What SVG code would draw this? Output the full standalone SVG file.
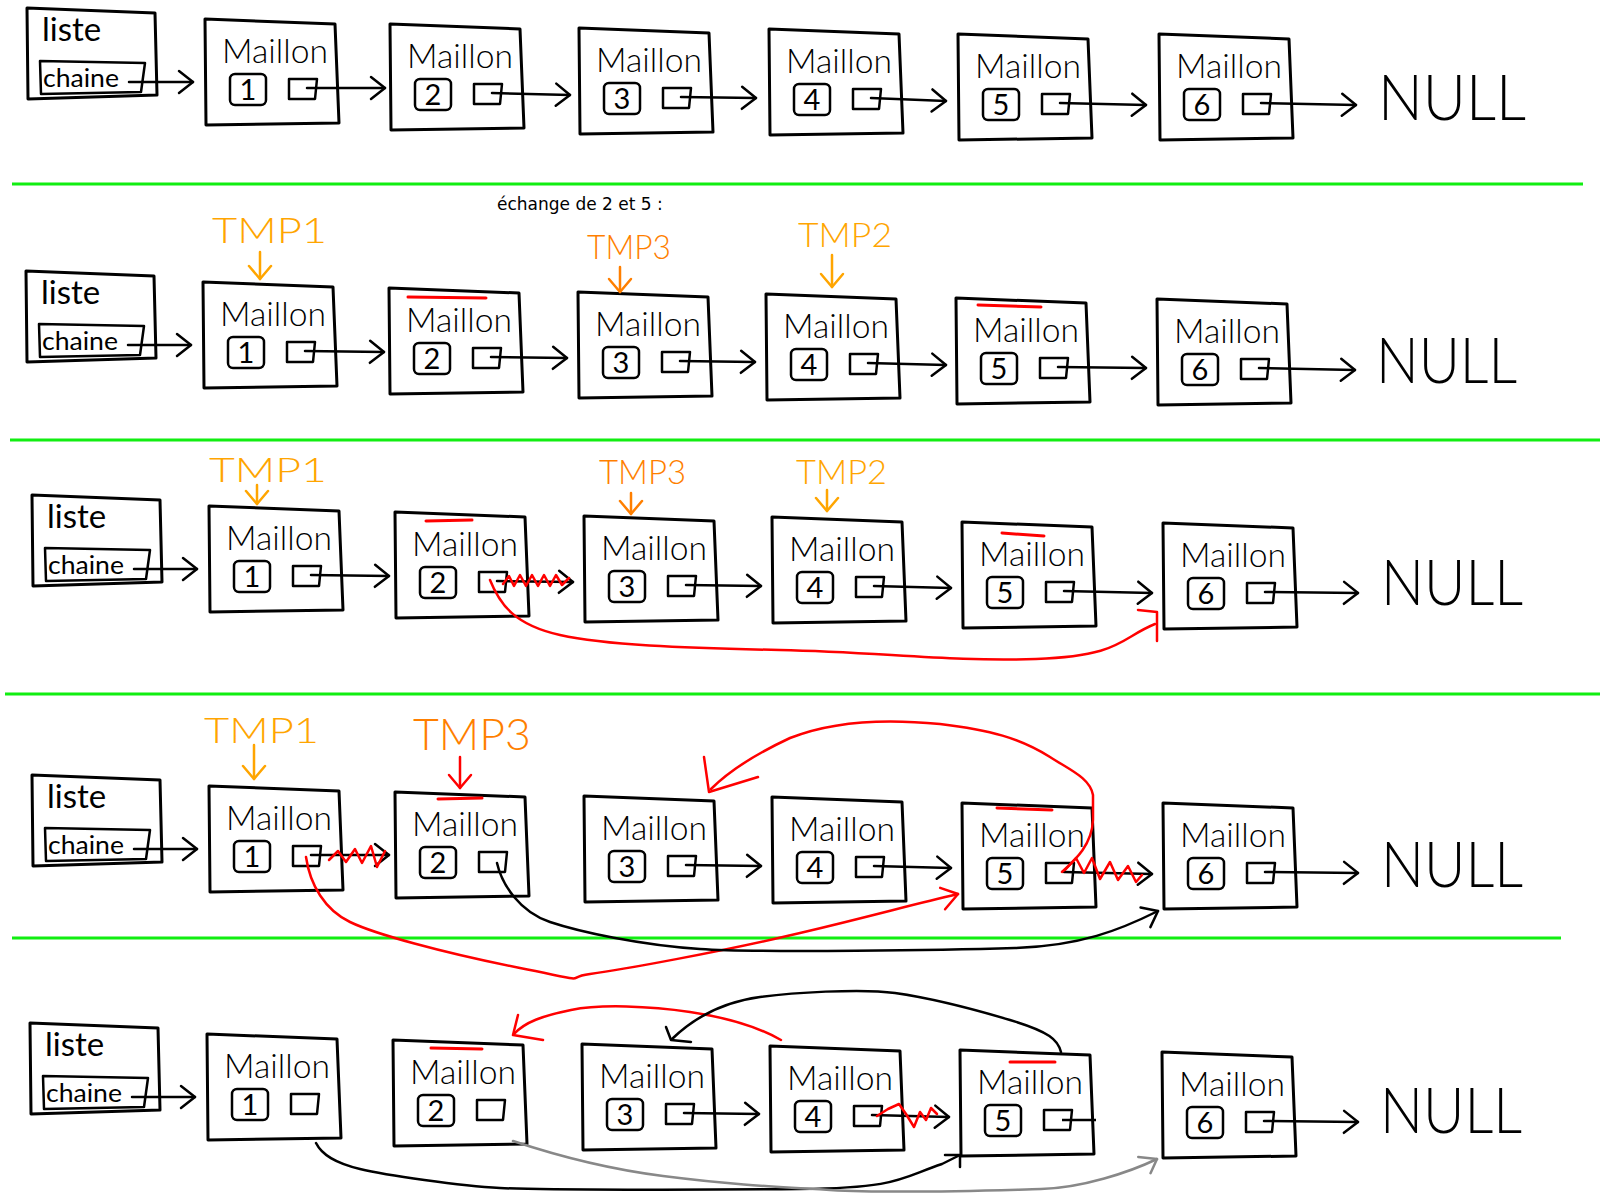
<svg xmlns="http://www.w3.org/2000/svg" width="1600" height="1200" viewBox="0 0 1600 1200">
<style>
.box{fill:none;stroke:#000;stroke-width:3;stroke-linejoin:round}
.sm{fill:none;stroke:#000;stroke-width:2.5;stroke-linejoin:round}
.hw{font-family:Lato,"Liberation Sans",Arial,sans-serif;fill:#000}
.mt{font-size:34px;font-weight:300}
.lst{font-size:33px}
.ch{font-size:25px}
.num{font-family:Lato,"Liberation Sans",Arial,sans-serif;font-size:29px;font-weight:400;text-anchor:middle;fill:#000}
.null{font-family:Lato,"Liberation Sans",sans-serif;font-weight:300;font-size:64px;fill:#000}
.tmp{font-family:Lato,"Liberation Sans",Arial,sans-serif;font-weight:300;fill:#ffa500}
.tmp3{fill:#ff7f00}
.ech{font-family:"DejaVu Sans",Verdana,sans-serif;font-size:17px;fill:#000}
.rbar{stroke:#f00;stroke-width:3;stroke-linecap:round}
.green{stroke:#11ee11;stroke-width:3}
.con{fill:none;stroke:#000;stroke-width:2.5;stroke-linecap:round;marker-end:url(#ak)}
.conr{fill:none;stroke:#f00;stroke-width:2.5;stroke-linecap:round;stroke-linejoin:round}
.cong{fill:none;stroke:#888;stroke-width:2.5;stroke-linecap:round}
.conb{fill:none;stroke:#000;stroke-width:2.5;stroke-linecap:round;stroke-linejoin:round}
.oar{fill:none;stroke:#ffa500;stroke-width:2.5;stroke-linecap:round;marker-end:url(#ao)}
.oar3{fill:none;stroke:#ff7f00;stroke-width:2.5;stroke-linecap:round;marker-end:url(#ao3)}
</style>
<defs>
<marker id="ak" viewBox="-16 -13 20 26" refX="0" refY="0" markerWidth="20" markerHeight="26" markerUnits="userSpaceOnUse" orient="auto" overflow="visible"><path d="M-14,-11 L0,0 L-14,11" fill="none" stroke="#000" stroke-width="2.5" stroke-linecap="round" stroke-linejoin="round"/></marker>
<marker id="ar" viewBox="-16 -13 20 26" refX="0" refY="0" markerWidth="20" markerHeight="26" markerUnits="userSpaceOnUse" orient="auto" overflow="visible"><path d="M-16,-10 L0,0 L-16,12" fill="none" stroke="#f00" stroke-width="2.5" stroke-linecap="round" stroke-linejoin="round"/></marker>
<marker id="ag" viewBox="-16 -13 20 26" refX="0" refY="0" markerWidth="20" markerHeight="26" markerUnits="userSpaceOnUse" orient="auto" overflow="visible"><path d="M-16,-10 L0,0 L-12,10" fill="none" stroke="#888" stroke-width="2.5" stroke-linecap="round" stroke-linejoin="round"/></marker>
<marker id="ao" viewBox="-16 -13 20 26" refX="0" refY="0" markerWidth="20" markerHeight="26" markerUnits="userSpaceOnUse" orient="auto" overflow="visible"><path d="M-13,-11 L0,0 L-13,11" fill="none" stroke="#ffa500" stroke-width="2.5" stroke-linecap="round" stroke-linejoin="round"/></marker>
<marker id="ao3" viewBox="-16 -13 20 26" refX="0" refY="0" markerWidth="20" markerHeight="26" markerUnits="userSpaceOnUse" orient="auto" overflow="visible"><path d="M-13,-11 L0,0 L-13,11" fill="none" stroke="#ff7f00" stroke-width="2.5" stroke-linecap="round" stroke-linejoin="round"/></marker>
<marker id="ar2" viewBox="-16 -13 20 26" refX="0" refY="0" markerWidth="20" markerHeight="26" markerUnits="userSpaceOnUse" orient="auto" overflow="visible"><path d="M-13,-11 L0,0 L-13,11" fill="none" stroke="#f00" stroke-width="2.5" stroke-linecap="round" stroke-linejoin="round"/></marker>
</defs>
<rect width="1600" height="1200" fill="#fff"/>

<g id="separators">
<line class="green" x1="12" y1="184" x2="1583" y2="184"/>
<line class="green" x1="10" y1="440" x2="1600" y2="440"/>
<line class="green" x1="5" y1="694" x2="1600" y2="694"/>
<line class="green" x1="12" y1="938" x2="1561" y2="938"/>
</g>

<text class="ech" x="497" y="210">échange de 2 et 5 :</text>

<!-- ROW 1 -->
<g id="r1-liste" transform="translate(27,8)"><polygon class="box" points="0,0 128,5 130,87 1,91"/><text class="hw lst" x="15" y="33">liste</text><polygon class="sm" points="13,53 118,55 114,84 14,86"/><text class="hw ch" x="16" y="79" textLength="76" lengthAdjust="spacingAndGlyphs">chaine</text></g>
<g id="r1-m1" transform="translate(205,19)"><polygon class="box" points="0,0 130,5 134,104 1,106"/><text class="hw mt" x="17" y="44" textLength="106" lengthAdjust="spacingAndGlyphs">Maillon</text><rect class="sm" x="25" y="55" width="36" height="31" rx="5"/><text class="num" x="43" y="81">1</text><path class="sm" d="M84,60 H112 L110,80 H84 Z"/></g>
<g id="r1-m2" transform="translate(390,24)"><polygon class="box" points="0,0 130,5 134,104 1,106"/><text class="hw mt" x="17" y="44" textLength="106" lengthAdjust="spacingAndGlyphs">Maillon</text><rect class="sm" x="25" y="55" width="36" height="31" rx="5"/><text class="num" x="43" y="81">2</text><path class="sm" d="M84,60 H112 L110,80 H84 Z"/></g>
<g id="r1-m3" transform="translate(579,28)"><polygon class="box" points="0,0 130,5 134,104 1,106"/><text class="hw mt" x="17" y="44" textLength="106" lengthAdjust="spacingAndGlyphs">Maillon</text><rect class="sm" x="25" y="55" width="36" height="31" rx="5"/><text class="num" x="43" y="81">3</text><path class="sm" d="M84,60 H112 L110,80 H84 Z"/></g>
<g id="r1-m4" transform="translate(769,29)"><polygon class="box" points="0,0 130,5 134,104 1,106"/><text class="hw mt" x="17" y="44" textLength="106" lengthAdjust="spacingAndGlyphs">Maillon</text><rect class="sm" x="25" y="55" width="36" height="31" rx="5"/><text class="num" x="43" y="81">4</text><path class="sm" d="M84,60 H112 L110,80 H84 Z"/></g>
<g id="r1-m5" transform="translate(958,34)"><polygon class="box" points="0,0 130,5 134,104 1,106"/><text class="hw mt" x="17" y="44" textLength="106" lengthAdjust="spacingAndGlyphs">Maillon</text><rect class="sm" x="25" y="55" width="36" height="31" rx="5"/><text class="num" x="43" y="81">5</text><path class="sm" d="M84,60 H112 L110,80 H84 Z"/></g>
<g id="r1-m6" transform="translate(1159,34)"><polygon class="box" points="0,0 130,5 134,104 1,106"/><text class="hw mt" x="17" y="44" textLength="106" lengthAdjust="spacingAndGlyphs">Maillon</text><rect class="sm" x="25" y="55" width="36" height="31" rx="5"/><text class="num" x="43" y="81">6</text><path class="sm" d="M84,60 H112 L110,80 H84 Z"/></g>
<g id="r1-null"><text class="null" x="1378" y="120" textLength="148" lengthAdjust="spacingAndGlyphs">NULL</text></g>

<!-- ROW 2 -->
<g id="r2-liste" transform="translate(26,271)"><polygon class="box" points="0,0 128,5 130,87 1,91"/><text class="hw lst" x="15" y="33">liste</text><polygon class="sm" points="13,53 118,55 114,84 14,86"/><text class="hw ch" x="16" y="79" textLength="76" lengthAdjust="spacingAndGlyphs">chaine</text></g>
<g id="r2-m1" transform="translate(203,282)"><polygon class="box" points="0,0 130,5 134,104 1,106"/><text class="hw mt" x="17" y="44" textLength="106" lengthAdjust="spacingAndGlyphs">Maillon</text><rect class="sm" x="25" y="55" width="36" height="31" rx="5"/><text class="num" x="43" y="81">1</text><path class="sm" d="M84,60 H112 L110,80 H84 Z"/></g>
<g id="r2-m2" transform="translate(389,288)"><polygon class="box" points="0,0 130,5 134,104 1,106"/><line class="rbar" x1="19" y1="9" x2="97" y2="10"/><text class="hw mt" x="17" y="44" textLength="106" lengthAdjust="spacingAndGlyphs">Maillon</text><rect class="sm" x="25" y="55" width="36" height="31" rx="5"/><text class="num" x="43" y="81">2</text><path class="sm" d="M84,60 H112 L110,80 H84 Z"/></g>
<g id="r2-m3" transform="translate(578,292)"><polygon class="box" points="0,0 130,5 134,104 1,106"/><text class="hw mt" x="17" y="44" textLength="106" lengthAdjust="spacingAndGlyphs">Maillon</text><rect class="sm" x="25" y="55" width="36" height="31" rx="5"/><text class="num" x="43" y="81">3</text><path class="sm" d="M84,60 H112 L110,80 H84 Z"/></g>
<g id="r2-m4" transform="translate(766,294)"><polygon class="box" points="0,0 130,5 134,104 1,106"/><text class="hw mt" x="17" y="44" textLength="106" lengthAdjust="spacingAndGlyphs">Maillon</text><rect class="sm" x="25" y="55" width="36" height="31" rx="5"/><text class="num" x="43" y="81">4</text><path class="sm" d="M84,60 H112 L110,80 H84 Z"/></g>
<g id="r2-m5" transform="translate(956,298)"><polygon class="box" points="0,0 130,5 134,104 1,106"/><line class="rbar" x1="22" y1="7" x2="85" y2="9"/><text class="hw mt" x="17" y="44" textLength="106" lengthAdjust="spacingAndGlyphs">Maillon</text><rect class="sm" x="25" y="55" width="36" height="31" rx="5"/><text class="num" x="43" y="81">5</text><path class="sm" d="M84,60 H112 L110,80 H84 Z"/></g>
<g id="r2-m6" transform="translate(1157,299)"><polygon class="box" points="0,0 130,5 134,104 1,106"/><text class="hw mt" x="17" y="44" textLength="106" lengthAdjust="spacingAndGlyphs">Maillon</text><rect class="sm" x="25" y="55" width="36" height="31" rx="5"/><text class="num" x="43" y="81">6</text><path class="sm" d="M84,60 H112 L110,80 H84 Z"/></g>
<g id="r2-null"><text class="null" x="1376" y="383" textLength="141" lengthAdjust="spacingAndGlyphs">NULL</text></g>
<g id="r2-tmp1"><text class="tmp" x="212" y="243" font-size="36" textLength="115" lengthAdjust="spacingAndGlyphs">TMP1</text></g>
<g id="r2-tmp3"><text class="tmp tmp3" x="587" y="259" font-size="33" textLength="84" lengthAdjust="spacingAndGlyphs">TMP3</text></g>
<g id="r2-tmp2"><text class="tmp" x="798" y="247" font-size="33" textLength="94" lengthAdjust="spacingAndGlyphs">TMP2</text></g>

<!-- ROW 3 -->
<g id="r3-liste" transform="translate(32,495)"><polygon class="box" points="0,0 128,5 130,87 1,91"/><text class="hw lst" x="15" y="33">liste</text><polygon class="sm" points="13,53 118,55 114,84 14,86"/><text class="hw ch" x="16" y="79" textLength="76" lengthAdjust="spacingAndGlyphs">chaine</text></g>
<g id="r3-m1" transform="translate(209,506)"><polygon class="box" points="0,0 130,5 134,104 1,106"/><text class="hw mt" x="17" y="44" textLength="106" lengthAdjust="spacingAndGlyphs">Maillon</text><rect class="sm" x="25" y="55" width="36" height="31" rx="5"/><text class="num" x="43" y="81">1</text><path class="sm" d="M84,60 H112 L110,80 H84 Z"/></g>
<g id="r3-m2" transform="translate(395,512)"><polygon class="box" points="0,0 130,5 134,104 1,106"/><line class="rbar" x1="31" y1="9" x2="77" y2="8"/><text class="hw mt" x="17" y="44" textLength="106" lengthAdjust="spacingAndGlyphs">Maillon</text><rect class="sm" x="25" y="55" width="36" height="31" rx="5"/><text class="num" x="43" y="81">2</text><path class="sm" d="M84,60 H112 L110,80 H84 Z"/></g>
<g id="r3-m3" transform="translate(584,516)"><polygon class="box" points="0,0 130,5 134,104 1,106"/><text class="hw mt" x="17" y="44" textLength="106" lengthAdjust="spacingAndGlyphs">Maillon</text><rect class="sm" x="25" y="55" width="36" height="31" rx="5"/><text class="num" x="43" y="81">3</text><path class="sm" d="M84,60 H112 L110,80 H84 Z"/></g>
<g id="r3-m4" transform="translate(772,517)"><polygon class="box" points="0,0 130,5 134,104 1,106"/><text class="hw mt" x="17" y="44" textLength="106" lengthAdjust="spacingAndGlyphs">Maillon</text><rect class="sm" x="25" y="55" width="36" height="31" rx="5"/><text class="num" x="43" y="81">4</text><path class="sm" d="M84,60 H112 L110,80 H84 Z"/></g>
<g id="r3-m5" transform="translate(962,522)"><polygon class="box" points="0,0 130,5 134,104 1,106"/><line class="rbar" x1="40" y1="11" x2="82" y2="14"/><text class="hw mt" x="17" y="44" textLength="106" lengthAdjust="spacingAndGlyphs">Maillon</text><rect class="sm" x="25" y="55" width="36" height="31" rx="5"/><text class="num" x="43" y="81">5</text><path class="sm" d="M84,60 H112 L110,80 H84 Z"/></g>
<g id="r3-m6" transform="translate(1163,523)"><polygon class="box" points="0,0 130,5 134,104 1,106"/><text class="hw mt" x="17" y="44" textLength="106" lengthAdjust="spacingAndGlyphs">Maillon</text><rect class="sm" x="25" y="55" width="36" height="31" rx="5"/><text class="num" x="43" y="81">6</text><path class="sm" d="M84,60 H112 L110,80 H84 Z"/></g>
<g id="r3-null"><text class="null" x="1381" y="605" textLength="142" lengthAdjust="spacingAndGlyphs">NULL</text></g>
<g id="r3-tmp1"><text class="tmp" x="209" y="482" font-size="34" textLength="118" lengthAdjust="spacingAndGlyphs">TMP1</text></g>
<g id="r3-tmp3"><text class="tmp tmp3" x="599" y="484" font-size="34" textLength="87" lengthAdjust="spacingAndGlyphs">TMP3</text></g>
<g id="r3-tmp2"><text class="tmp" x="796" y="484" font-size="34" textLength="91" lengthAdjust="spacingAndGlyphs">TMP2</text></g>

<!-- ROW 4 -->
<g id="r4-liste" transform="translate(32,775)"><polygon class="box" points="0,0 128,5 130,87 1,91"/><text class="hw lst" x="15" y="33">liste</text><polygon class="sm" points="13,53 118,55 114,84 14,86"/><text class="hw ch" x="16" y="79" textLength="76" lengthAdjust="spacingAndGlyphs">chaine</text></g>
<g id="r4-m1" transform="translate(209,786)"><polygon class="box" points="0,0 130,5 134,104 1,106"/><text class="hw mt" x="17" y="44" textLength="106" lengthAdjust="spacingAndGlyphs">Maillon</text><rect class="sm" x="25" y="55" width="36" height="31" rx="5"/><text class="num" x="43" y="81">1</text><path class="sm" d="M84,60 H112 L110,80 H84 Z"/></g>
<g id="r4-m2" transform="translate(395,792)"><polygon class="box" points="0,0 130,5 134,104 1,106"/><line class="rbar" x1="43" y1="7" x2="87" y2="6"/><text class="hw mt" x="17" y="44" textLength="106" lengthAdjust="spacingAndGlyphs">Maillon</text><rect class="sm" x="25" y="55" width="36" height="31" rx="5"/><text class="num" x="43" y="81">2</text><path class="sm" d="M84,60 H112 L110,80 H84 Z"/></g>
<g id="r4-m3" transform="translate(584,796)"><polygon class="box" points="0,0 130,5 134,104 1,106"/><text class="hw mt" x="17" y="44" textLength="106" lengthAdjust="spacingAndGlyphs">Maillon</text><rect class="sm" x="25" y="55" width="36" height="31" rx="5"/><text class="num" x="43" y="81">3</text><path class="sm" d="M84,60 H112 L110,80 H84 Z"/></g>
<g id="r4-m4" transform="translate(772,797)"><polygon class="box" points="0,0 130,5 134,104 1,106"/><text class="hw mt" x="17" y="44" textLength="106" lengthAdjust="spacingAndGlyphs">Maillon</text><rect class="sm" x="25" y="55" width="36" height="31" rx="5"/><text class="num" x="43" y="81">4</text><path class="sm" d="M84,60 H112 L110,80 H84 Z"/></g>
<g id="r4-m5" transform="translate(962,803)"><polygon class="box" points="0,0 130,5 134,104 1,106"/><line class="rbar" x1="35" y1="5" x2="90" y2="7"/><text class="hw mt" x="17" y="44" textLength="106" lengthAdjust="spacingAndGlyphs">Maillon</text><rect class="sm" x="25" y="55" width="36" height="31" rx="5"/><text class="num" x="43" y="81">5</text><path class="sm" d="M84,60 H112 L110,80 H84 Z"/></g>
<g id="r4-m6" transform="translate(1163,803)"><polygon class="box" points="0,0 130,5 134,104 1,106"/><text class="hw mt" x="17" y="44" textLength="106" lengthAdjust="spacingAndGlyphs">Maillon</text><rect class="sm" x="25" y="55" width="36" height="31" rx="5"/><text class="num" x="43" y="81">6</text><path class="sm" d="M84,60 H112 L110,80 H84 Z"/></g>
<g id="r4-null"><text class="null" x="1381" y="887" textLength="142" lengthAdjust="spacingAndGlyphs">NULL</text></g>
<g id="r4-tmp1"><text class="tmp" x="204" y="743" font-size="36" textLength="115" lengthAdjust="spacingAndGlyphs">TMP1</text></g>
<g id="r4-tmp3"><text class="tmp tmp3" x="413" y="750" font-size="44" textLength="118" lengthAdjust="spacingAndGlyphs">TMP3</text></g>

<!-- ROW 5 -->
<g id="r5-liste" transform="translate(30,1023)"><polygon class="box" points="0,0 128,5 130,87 1,91"/><text class="hw lst" x="15" y="33">liste</text><polygon class="sm" points="13,53 118,55 114,84 14,86"/><text class="hw ch" x="16" y="79" textLength="76" lengthAdjust="spacingAndGlyphs">chaine</text></g>
<g id="r5-m1" transform="translate(207,1034)"><polygon class="box" points="0,0 130,5 134,104 1,106"/><text class="hw mt" x="17" y="44" textLength="106" lengthAdjust="spacingAndGlyphs">Maillon</text><rect class="sm" x="25" y="55" width="36" height="31" rx="5"/><text class="num" x="43" y="81">1</text><path class="sm" d="M84,60 H112 L110,80 H84 Z"/></g>
<g id="r5-m2" transform="translate(393,1040)"><polygon class="box" points="0,0 130,5 134,104 1,106"/><line class="rbar" x1="38" y1="8" x2="89" y2="9"/><text class="hw mt" x="17" y="44" textLength="106" lengthAdjust="spacingAndGlyphs">Maillon</text><rect class="sm" x="25" y="55" width="36" height="31" rx="5"/><text class="num" x="43" y="81">2</text><path class="sm" d="M84,60 H112 L110,80 H84 Z"/></g>
<g id="r5-m3" transform="translate(582,1044)"><polygon class="box" points="0,0 130,5 134,104 1,106"/><text class="hw mt" x="17" y="44" textLength="106" lengthAdjust="spacingAndGlyphs">Maillon</text><rect class="sm" x="25" y="55" width="36" height="31" rx="5"/><text class="num" x="43" y="81">3</text><path class="sm" d="M84,60 H112 L110,80 H84 Z"/></g>
<g id="r5-m4" transform="translate(770,1046)"><polygon class="box" points="0,0 130,5 134,104 1,106"/><text class="hw mt" x="17" y="44" textLength="106" lengthAdjust="spacingAndGlyphs">Maillon</text><rect class="sm" x="25" y="55" width="36" height="31" rx="5"/><text class="num" x="43" y="81">4</text><path class="sm" d="M84,60 H112 L110,80 H84 Z"/></g>
<g id="r5-m5" transform="translate(960,1050)"><polygon class="box" points="0,0 130,5 134,104 1,106"/><line class="rbar" x1="50" y1="12" x2="95" y2="12"/><text class="hw mt" x="17" y="44" textLength="106" lengthAdjust="spacingAndGlyphs">Maillon</text><rect class="sm" x="25" y="55" width="36" height="31" rx="5"/><text class="num" x="43" y="81">5</text><path class="sm" d="M84,60 H112 L110,80 H84 Z"/><line class="sm" x1="102" y1="70" x2="136" y2="70"/></g>
<g id="r5-m6" transform="translate(1162,1052)"><polygon class="box" points="0,0 130,5 134,104 1,106"/><text class="hw mt" x="17" y="44" textLength="106" lengthAdjust="spacingAndGlyphs">Maillon</text><rect class="sm" x="25" y="55" width="36" height="31" rx="5"/><text class="num" x="43" y="81">6</text><path class="sm" d="M84,60 H112 L110,80 H84 Z"/></g>
<g id="r5-null"><text class="null" x="1380" y="1133" textLength="142" lengthAdjust="spacingAndGlyphs">NULL</text></g>

<g id="connectors">
<!-- row 1 -->
<line class="con" x1="129" y1="82" x2="193" y2="82"/>
<line class="con" x1="307" y1="88" x2="385" y2="88"/>
<line class="con" x1="492" y1="93" x2="570" y2="95"/>
<line class="con" x1="681" y1="97" x2="756" y2="98"/>
<line class="con" x1="871" y1="98" x2="946" y2="101"/>
<line class="con" x1="1060" y1="103" x2="1146" y2="105"/>
<line class="con" x1="1261" y1="103" x2="1356" y2="105"/>
<!-- row 2 -->
<line class="con" x1="128" y1="345" x2="191" y2="345"/>
<line class="con" x1="305" y1="351" x2="384" y2="352"/>
<line class="con" x1="491" y1="357" x2="567" y2="358"/>
<line class="con" x1="680" y1="361" x2="755" y2="362"/>
<line class="con" x1="868" y1="363" x2="946" y2="365"/>
<line class="con" x1="1058" y1="367" x2="1146" y2="368"/>
<line class="con" x1="1259" y1="368" x2="1355" y2="370"/>
<line class="oar" x1="260" y1="252" x2="260" y2="279"/>
<line class="oar3" x1="620" y1="267" x2="620" y2="292"/>
<line class="oar" x1="832" y1="255" x2="832" y2="287"/>
<!-- row 3 -->
<line class="con" x1="134" y1="569" x2="197" y2="569"/>
<line class="con" x1="311" y1="575" x2="389" y2="576"/>
<line class="con" x1="497" y1="581" x2="573" y2="582"/>
<line class="con" x1="686" y1="585" x2="761" y2="586"/>
<line class="con" x1="874" y1="586" x2="951" y2="588"/>
<line class="con" x1="1064" y1="591" x2="1152" y2="593"/>
<line class="con" x1="1265" y1="592" x2="1358" y2="593"/>
<line class="oar" x1="257" y1="485" x2="257" y2="504"/>
<line class="oar3" x1="631" y1="493" x2="631" y2="514"/>
<line class="oar" x1="827" y1="490" x2="827" y2="511"/>
<polyline class="conr" points="503,584 509,576 514,586 520,575 526,586 532,575 538,586 544,575 550,586 556,575 562,585 569,578"/>
<path class="conr" d="M490,580 C500,605 515,625 560,635 S 680,648 780,650 S 950,662 1036,659 S 1120,638 1155,624"/>
<polyline class="conr" points="1138,610 1157,612 1157,641"/>
<!-- row 4 -->
<line class="con" x1="134" y1="849" x2="197" y2="849"/>
<line class="con" x1="311" y1="855" x2="389" y2="855"/>
<line class="con" x1="686" y1="865" x2="761" y2="866"/>
<line class="con" x1="874" y1="866" x2="951" y2="868"/>
<line class="con" x1="1064" y1="872" x2="1152" y2="874"/>
<line class="con" x1="1265" y1="872" x2="1358" y2="873"/>
<line class="oar" x1="254" y1="745" x2="254" y2="779"/>
<line x1="460" y1="757" x2="460" y2="788" fill="none" stroke="#f00" stroke-width="2.5" stroke-linecap="round" marker-end="url(#ar2)"/>
<polyline class="conr" points="329,860 338,851 346,862 355,849 362,863 371,846 377,867 385,851"/>
<polyline class="conr" points="1065,870 1076,858 1084,873 1092,858 1100,879 1110,862 1118,880 1128,866 1136,882 1142,875"/>
<path class="conr" d="M306,857 C310,885 325,910 350,922 S 440,952 520,968 S 560,978 590,974 S 720,952 800,933 S 910,905 958,894" marker-end="url(#ar)"/>
<path class="conb" d="M497,863 C502,885 520,912 550,922 S 640,945 700,949 S 950,950 1015,948 S 1120,930 1158,911" marker-end="url(#ak)"/>
<path class="conr" d="M1062,872 C1075,860 1092,845 1093,820 L1093,795 C1090,778 1070,770 1050,757 C1020,738 990,730 940,724 C880,718 830,722 790,738 C760,752 730,770 711,789"/>
<polyline class="conr" points="704,757 709,792 758,777"/>
<!-- row 5 -->
<line class="con" x1="132" y1="1097" x2="195" y2="1097"/>
<line class="con" x1="684" y1="1113" x2="759" y2="1114"/>
<line class="con" x1="872" y1="1115" x2="949" y2="1117"/>
<line class="con" x1="1264" y1="1121" x2="1358" y2="1122"/>
<polyline class="conr" points="877,1116 888,1109 899,1104 906,1114 914,1127 920,1112 926,1120 931,1108 937,1114"/>
<path class="conb" d="M316,1143 C322,1155 335,1163 360,1169 S 460,1186 500,1188 S 700,1190 800,1189 S 900,1178 942,1164 L958,1156"/>
<polyline class="conb" points="945,1155 960,1155 960,1167"/>
<path class="cong" d="M513,1141 C540,1150 600,1168 663,1176 S 760,1186 830,1190 S 1000,1190 1041,1189 S 1130,1172 1157,1159" marker-end="url(#ag)"/>
<path class="conr" d="M781,1040 C760,1028 730,1018 690,1012 S 600,1004 571,1010 S 525,1022 514,1034"/>
<polyline class="conr" points="518,1015 513,1035 543,1040"/>
<path class="conb" d="M1061,1052 C1058,1040 1050,1032 1010,1020 S 930,998 895,993 S 790,993 760,997 S 700,1012 672,1039"/>
<polyline class="conb" points="666,1027 671,1040 691,1042"/>
</g>
</svg>
